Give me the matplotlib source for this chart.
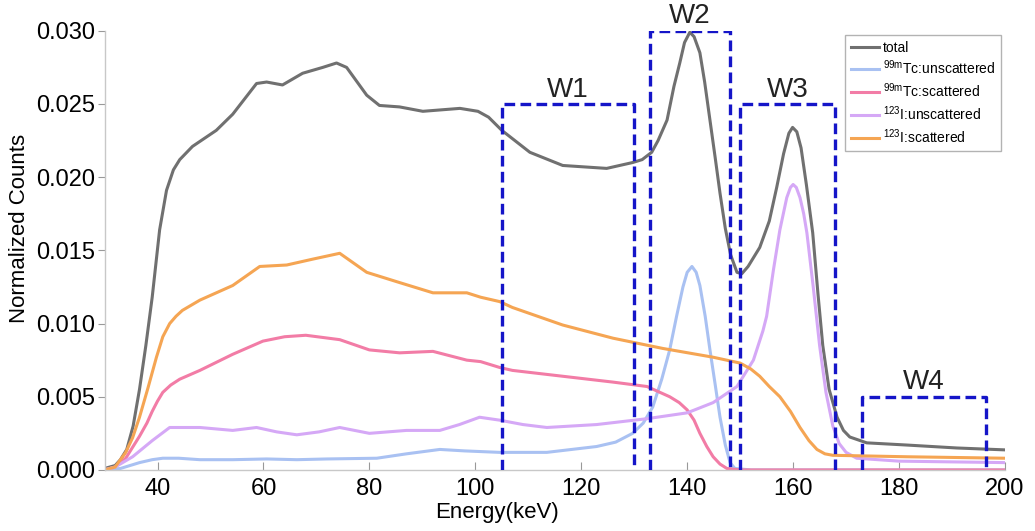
import numpy as np
import matplotlib.pyplot as plt

plt.rcParams['font.family'] = ['Liberation Sans', 'DejaVu Sans']
plt.rcParams['mathtext.fontset'] = 'custom'
plt.rcParams['mathtext.rm'] = 'Liberation Sans'
plt.rcParams['mathtext.it'] = 'Liberation Sans:italic'

# energy spectra (keV, normalized counts)
e_total = [30, 32, 33, 34.2, 35.4, 36.6, 37.8, 39, 40.4, 41.7, 43, 44.2, 46.6, 51.1, 54.2,
           58.7, 60.6, 63.6, 67.4, 71.2, 73.8, 75.7, 79.5, 81.9, 85.7, 90.1, 97.1, 100.5,
           102.5, 105, 110.3, 116.5, 124.8, 129.7, 131.5, 133.3, 134.5, 136.2, 137.5, 138.6,
           139.5, 140.5, 141.3, 142.4, 143.3, 144.3, 145.3, 146.2, 147.2, 148.2, 149.4, 150.3,
           151.5, 153.7, 155.5, 156.9, 158.2, 159.2, 159.9, 160.7, 161.5, 162.5, 163.7, 164.7,
           165.6, 166.8, 168.3, 169.5, 170.7, 173.9, 181.5, 190.9, 200]
total = [0.0001, 0.0003, 0.0007, 0.0014, 0.0030, 0.0055, 0.0085, 0.0118, 0.0164, 0.0191,
         0.0205, 0.0212, 0.0221, 0.0232, 0.0243, 0.0264, 0.0265, 0.0263, 0.0271, 0.0275,
         0.0278, 0.0275, 0.0256, 0.0249, 0.0248, 0.0245, 0.0247, 0.0245, 0.0241, 0.0232,
         0.0217, 0.0208, 0.0206, 0.0210, 0.0212, 0.0217, 0.0225, 0.0239, 0.0262, 0.0278,
         0.0292, 0.0299, 0.0296, 0.0285, 0.0265, 0.0239, 0.0213, 0.0189, 0.0165, 0.0147,
         0.0135, 0.0134, 0.0139, 0.0152, 0.0170, 0.0193, 0.0216, 0.0230, 0.0234, 0.0231,
         0.0220, 0.0195, 0.0162, 0.0120, 0.0085, 0.0055, 0.0036, 0.0027, 0.00225, 0.00185,
         0.0017, 0.0015, 0.00137]

e_tc_unsc = [30, 33, 36.6, 39, 41, 44, 48, 54.2, 60.6, 66.3, 72, 81.4, 87, 93.3, 98, 104.6,
             113.5, 122.9, 126.5, 129.7, 131.7, 133.5, 135.2, 136.7, 138, 139.2, 140, 140.9,
             141.7, 142.4, 143.4, 144.3, 145.3, 146.2, 147.2, 148.1, 149, 152, 160, 170, 200]
tc_unsc = [0, 0.0001, 0.0005, 0.0007, 0.0008, 0.0008, 0.0007, 0.0007, 0.00075, 0.0007,
           0.00075, 0.0008, 0.0011, 0.0014, 0.0013, 0.0012, 0.0012, 0.0016, 0.0019, 0.0025,
           0.0032, 0.0043, 0.0062, 0.0082, 0.0105, 0.0125, 0.0135, 0.0139, 0.0135, 0.0126,
           0.0105, 0.0082, 0.0058, 0.0036, 0.0017, 0.0005, 0.0001, 0.0, 0.0, 0.0, 0.0]

e_tc_sc = [30, 32, 34, 36.6, 38, 39, 40, 41, 42.5, 44.2, 48, 54.2, 59.9, 64, 68, 74.4, 80,
           85.7, 92, 98.4, 101, 104.6, 107, 116.5, 126, 132.4, 136.7, 138.5, 140, 141.3, 142.4,
           143.7, 144.9, 146.2, 147.5, 150, 200]
tc_sc = [0, 0.0002, 0.0008, 0.0023, 0.0032, 0.0040, 0.0047, 0.0053, 0.0058, 0.0062, 0.0068,
         0.0079, 0.0088, 0.0091, 0.0092, 0.0089, 0.0082, 0.0080, 0.0081, 0.0075, 0.0074,
         0.0070, 0.0068, 0.0064, 0.0060, 0.0057, 0.0050, 0.0046, 0.0041, 0.0034, 0.0025,
         0.0016, 0.0009, 0.0004, 0.0001, 0.0, 0.0]

e_i_unsc = [30, 32, 35.3, 39, 42.3, 48, 54.2, 58.7, 62.5, 66.3, 70.5, 74.4, 80, 87, 93.3, 97,
            100.8, 104.6, 109, 113.5, 122.9, 132.4, 140, 144.9, 149.4, 152.5, 154.3, 155,
            156.3, 157.5, 158.8, 159.5, 160, 160.6, 161.3, 162, 162.6, 163.8, 165, 166.2,
            167.5, 168.7, 170, 172, 180, 200]
i_unsc = [0, 0.0002, 0.0009, 0.0020, 0.0029, 0.0029, 0.0027, 0.0029, 0.0026, 0.0024, 0.0026,
          0.0029, 0.0025, 0.0027, 0.0027, 0.0031, 0.0036, 0.0034, 0.0031, 0.0029, 0.0031,
          0.0035, 0.0039, 0.0046, 0.0057, 0.0075, 0.0095, 0.0105, 0.0137, 0.0164, 0.0186,
          0.0193, 0.0195, 0.0193, 0.0186, 0.0175, 0.0162, 0.0125, 0.0085, 0.0053, 0.0030,
          0.0018, 0.0012, 0.0008, 0.0006, 0.0005]

e_i_sc = [30, 32, 34, 35.3, 36.6, 38.2, 39.8, 41, 42.3, 43.5, 44.7, 48, 51.1, 54.2, 59.3,
          64.4, 69.3, 74.4, 79.5, 85.7, 92, 98.4, 101, 104.6, 107, 116.5, 126, 135.4, 144.9,
          150, 152, 153.7, 155.5, 157.5, 159.5, 161.3, 163, 164.5, 166, 167.5, 181.5, 200]
i_sc = [0, 0.0002, 0.0012, 0.0022, 0.0036, 0.0056, 0.0077, 0.0091, 0.0100, 0.0105, 0.0109,
        0.0116, 0.0121, 0.0126, 0.0139, 0.0140, 0.0144, 0.0148, 0.0135, 0.0128, 0.0121,
        0.0121, 0.0118, 0.0115, 0.0111, 0.0099, 0.0090, 0.0083, 0.0077, 0.0073, 0.0069,
        0.0064, 0.0057, 0.0050, 0.0040, 0.0029, 0.0020, 0.0014, 0.0011, 0.0010, 0.0009,
        0.0008]

# energy windows
win_names = ['W1', 'W2', 'W3', 'W4']
win_lo = [105, 133, 150, 173]
win_hi = [130, 148, 168, 196.5]
win_top = [0.025, 0.030, 0.025, 0.005]

fig = plt.figure(figsize=(10.35, 5.31), dpi=100)
ax = fig.add_axes([0.101, 0.115, 0.870, 0.827])

lw = 2.2
ax.plot(e_total, total, color='#707070', lw=lw, label='total')
ax.plot(e_tc_unsc, tc_unsc, color='#a9c1f2', lw=lw, label=r'$^{\mathrm{99m}}$Tc:unscattered')
ax.plot(e_tc_sc, tc_sc, color='#f27ca6', lw=lw, label=r'$^{\mathrm{99m}}$Tc:scattered')
ax.plot(e_i_unsc, i_unsc, color='#d5a8f6', lw=lw, label=r'$^{\mathrm{123}}$I:unscattered')
ax.plot(e_i_sc, i_sc, color='#f5a553', lw=lw, label=r'$^{\mathrm{123}}$I:scattered')

for name, lo, hi, top in zip(win_names, win_lo, win_hi, win_top):
    ax.plot([lo, lo, hi, hi], [0, top, top, 0], color='#1515c8', lw=2.4,
            dashes=(3.2, 1.6), zorder=5)
    ax.text((lo + hi) / 2, top + 0.0001, name, ha='center', va='bottom',
            fontsize=20, color='#222222', zorder=6)

ax.set_xlim(30, 200)
ax.set_ylim(0, 0.030)
ax.set_xticks(np.arange(40, 201, 20))
ax.set_yticks(np.arange(0, 0.0301, 0.005))
ax.set_yticklabels(['%.3f' % t for t in np.arange(0, 0.0301, 0.005)])

for s in ['top', 'right']:
    ax.spines[s].set_visible(False)
for s in ['left', 'bottom']:
    ax.spines[s].set_color('#c8c8c8')
    ax.spines[s].set_linewidth(1.0)

ax.tick_params(axis='x', direction='in', length=6, color='#999999', labelsize=17, pad=6)
ax.tick_params(axis='y', direction='out', length=5, color='#999999', labelsize=17, pad=2)

ax.set_xlabel('Energy(keV)', fontsize=16)
ax.xaxis.set_label_coords(0.436, -0.072)
ax.set_ylabel('Normalized Counts', fontsize=16)
ax.yaxis.set_label_coords(-0.083, 0.55)

leg = ax.legend(loc='upper right', fontsize=10, frameon=True, fancybox=False,
                handlelength=2.0, handletextpad=0.3, borderaxespad=0.3,
                labelspacing=0.3, borderpad=0.4)
leg.get_frame().set_edgecolor('#a0a0a0')
leg.get_frame().set_linewidth(1.0)

plt.savefig('out.png', dpi=100)
